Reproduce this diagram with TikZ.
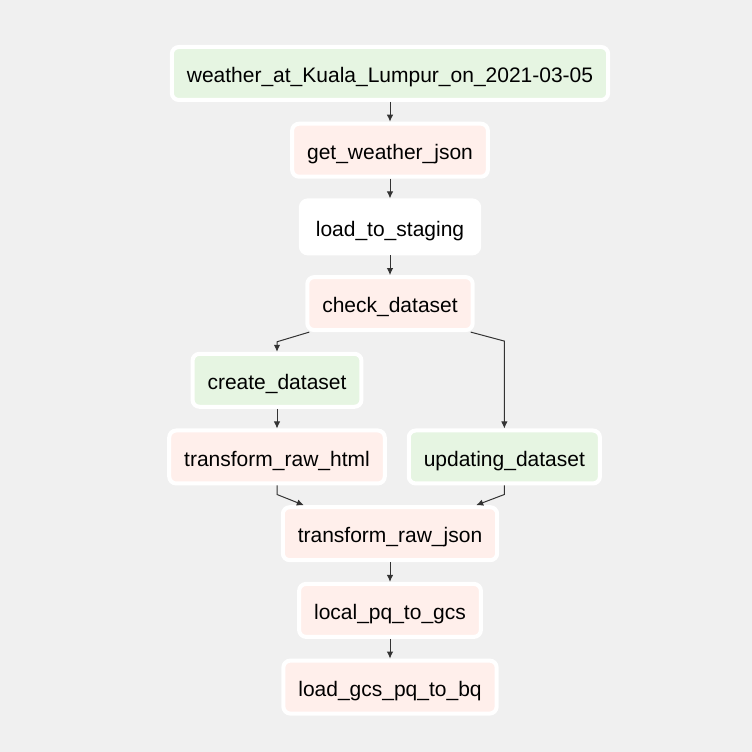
\documentclass[tikz,border=0pt]{standalone}
\usepackage{fontspec}
\setmainfont{Liberation Sans}
\definecolor{opgreen}{RGB}{230,245,226}
\definecolor{oppink}{RGB}{255,239,235}
\definecolor{bggray}{RGB}{240,240,240}
\tikzset{every picture/.style={/utils/exec={\fontsize{21}{25}\selectfont}}}
\usetikzlibrary{calc}
\usetikzlibrary{positioning}
\usetikzlibrary{arrows.meta}

\begin{document}
\begin{tikzpicture}[x=1pt, y=1pt, >={Latex[length=7pt,width=6.5pt]}]
  \fill [bggray] (0,0) rectangle (752,752);
  \useasboundingbox (0,0) rectangle (752,752);

    \begin{scope}[every node/.style={draw=white, line width=4pt, rounded corners=7pt, minimum height=53pt, inner xsep=15pt, text height=23pt, text depth=4.4pt}, node distance=19.7pt]
      \node [fill=opgreen] (weather) at (390,678.5) {weather\_at\_Kuala\_Lumpur\_on\_2021-03-05};
      \node [fill=oppink, below=of weather] (getjson) {get\_weather\_json};
      \node [fill=white, below=of getjson] (staging) {load\_to\_staging};
      \node [fill=oppink, below=of staging] (check) {check\_dataset};
      \node [fill=opgreen, below=of check, xshift=-113pt] (create) {create\_dataset};
      \node [fill=oppink, below=of create] (html) {transform\_raw\_html};
      \node [fill=opgreen, right=20pt of html] (updating) {updating\_dataset};
      \node [fill=oppink, anchor=north] (rawjson) at ($(html.south -| check)+(0,-19.7)$) {transform\_raw\_json};
      \node [fill=oppink, below=of rawjson] (pqgcs) {local\_pq\_to\_gcs};
      \node [fill=oppink, below=of pqgcs] (gcsbq) {load\_gcs\_pq\_to\_bq};
    \end{scope}

    \begin{scope}[draw=black!80, line width=1pt]
      \draw [->] (weather) -- (getjson);
      \draw [->] (getjson) -- (staging);
      \draw [->] (staging) -- (check);

      % branch
      \draw [->] ([xshift=4pt]check.south west) -- ([yshift=10pt]create.north) -- (create.north);
      \draw [->] ([xshift=-4pt]check.south east) -- ($(check.south east -| updating.north)+(0,-9)$) -- (updating.north);
      \draw [->] (create) -- (html);

      % join
      \draw [->] (html.south) -- ++(0,-9) -- ([xshift=23pt]rawjson.north west);
      \draw [->] (updating.south) -- ++(0,-9) -- ([xshift=-23pt]rawjson.north east);

      \draw [->] (rawjson) -- (pqgcs);
      \draw [->] (pqgcs) -- (gcsbq);
    \end{scope}
\end{tikzpicture}
\end{document}
